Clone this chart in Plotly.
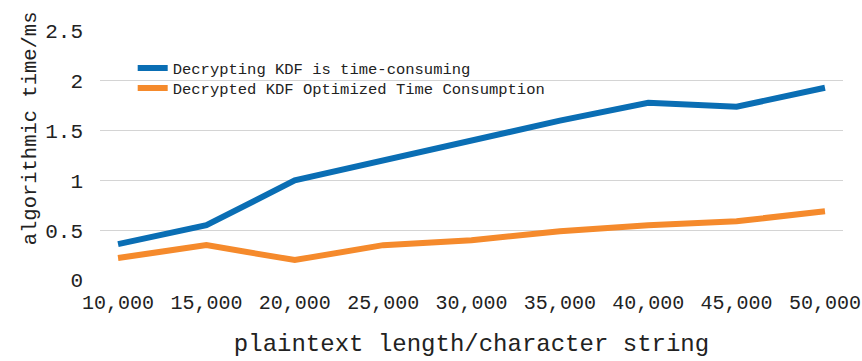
import plotly.graph_objects as go

x_vals = [10000, 15000, 20000, 25000, 30000, 35000, 40000, 45000, 50000]
x_labels = ["10,000", "15,000", "20,000", "25,000", "30,000", "35,000", "40,000", "45,000", "50,000"]
series_names = ["Decrypting KDF is time-consuming", "Decrypted KDF Optimized Time Consumption"]
blue_vals = [0.36, 0.55, 1.0, 1.2, 1.4, 1.6, 1.78, 1.74, 1.93]
orange_vals = [0.22, 0.35, 0.2, 0.35, 0.4, 0.49, 0.55, 0.59, 0.69]
y_ticks = [0, 0.5, 1, 1.5, 2, 2.5]
y_labels = ["0", "0.5", "1", "1.5", "2", "2.5"]
x_title = "plaintext length/character string"
y_title = "algorithmic time/ms"

FONT = "Liberation Mono"
TXT = "#222222"

fig = go.Figure()
fig.add_trace(go.Scatter(x=x_vals, y=blue_vals, mode="lines", name=series_names[0],
                         line=dict(color="#0A6EB4", width=6), legend="legend", showlegend=True))
fig.add_trace(go.Scatter(x=x_vals, y=orange_vals, mode="lines", name=series_names[1],
                         line=dict(color="#F58A2C", width=6), legend="legend2", showlegend=True))

leg_common = dict(xanchor="left", yanchor="top", font=dict(family=FONT, size=15.5, color=TXT),
                  bgcolor="rgba(0,0,0,0)")

fig.update_layout(
    width=862, height=361,
    showlegend=True,
    margin=dict(l=100, r=19, t=31, b=81),
    paper_bgcolor="white", plot_bgcolor="white",
    font=dict(family=FONT, color=TXT),
    legend=dict(x=0.044, y=0.918, **leg_common),
    legend2=dict(x=0.044, y=0.838, **leg_common),
    xaxis=dict(range=[8980, 51020], tickmode="array", tickvals=x_vals, ticktext=x_labels,
               showgrid=False, zeroline=False, showline=False, ticks="", automargin=False,
               ticklabelstandoff=8,
               tickfont=dict(family=FONT, size=20, color=TXT),
               title=dict(text=x_title,
                          font=dict(family=FONT, size=24, color=TXT), standoff=20)),
    yaxis=dict(range=[0, 2.5], tickmode="array", tickvals=y_ticks, ticktext=y_labels,
               showgrid=True, gridcolor="#D4D4D4", gridwidth=1, zeroline=False,
               showline=False, ticks="", ticklabelstandoff=16, automargin=False,
               tickfont=dict(family=FONT, size=21, color=TXT)),
    annotations=[dict(text=y_title, textangle=-90, xref="paper", yref="paper",
                      x=-0.094, y=0.61, xanchor="center", yanchor="middle", showarrow=False,
                      font=dict(family=FONT, size=20.5, color=TXT))],
)

fig.write_html("out.html", config={"displayModeBar": False},
               post_script="document.body.style.margin='0';document.body.style.overflow='hidden';")
